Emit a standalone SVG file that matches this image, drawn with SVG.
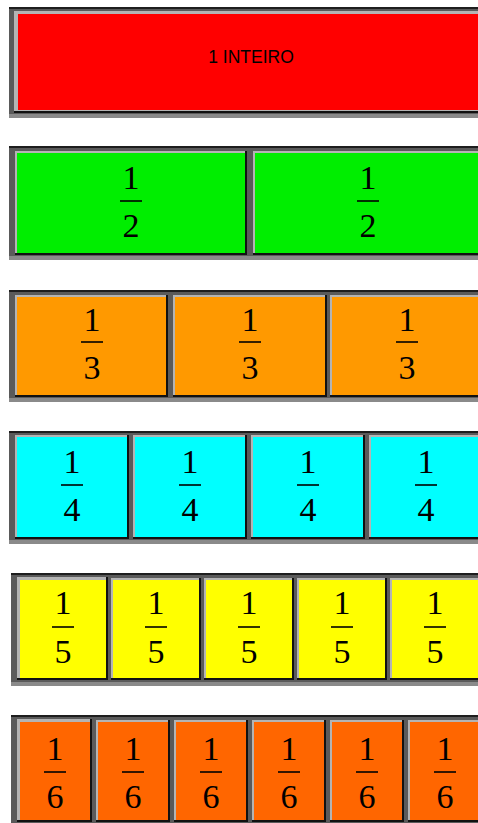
<svg xmlns="http://www.w3.org/2000/svg" width="478" height="823" viewBox="0 0 478 823">
<style>
.row{fill:#5a5a5a}
.rowtop{fill:#1e1e1e}
.rowbot{fill:#8a8a8a}
.blk{fill:#111}
.lt{fill:#b4b4b4}
.n{font-family:"Liberation Serif","Times New Roman",serif;font-size:34px;fill:#000;text-anchor:middle}
.bar{stroke:#000;stroke-width:1.6}
.lbl{font-family:"Liberation Sans",Arial,sans-serif;font-size:17.5px;fill:#000;text-anchor:middle}
.r1{fill:#ff0000}.r2{fill:#00ee00}.r3{fill:#ff9900}.r4{fill:#00ffff}.r5{fill:#ffff00}.r6{fill:#ff6600}
</style>
<rect width="478" height="823" fill="#fff"/>

<!-- Row 1 -->
<g id="row1">
<rect class="row" x="9" y="7" width="475" height="111"/>
<rect class="rowtop" x="9" y="7" width="475" height="2"/>
<rect class="rowbot" x="9" y="114" width="475" height="4"/>
<g id="inteiro">
<rect class="blk" x="14" y="11" width="471" height="102"/>
<rect class="lt" x="14" y="11" width="469" height="100"/>
<rect class="r1" x="18" y="14" width="465" height="96"/>
<text class="lbl" x="251" y="63">1 INTEIRO</text>
</g>
</g>

<!-- Row 2 -->
<g id="row2">
<rect class="row" x="9" y="146" width="475" height="114"/>
<rect class="rowtop" x="9" y="146" width="475" height="2"/>
<rect class="rowbot" x="9" y="256" width="475" height="4"/>
<g id="half1">
<rect class="blk" x="15" y="151" width="232" height="104"/>
<rect class="lt" x="15" y="151" width="230" height="102"/>
<rect class="r2" x="17" y="153" width="228" height="100"/>
<text class="n" x="131" y="189">1</text><line class="bar" x1="120" y1="201" x2="142" y2="201"/><text class="n" x="131" y="237">2</text>
</g>
<g id="half2">
<rect class="blk" x="253" y="151" width="232" height="104"/>
<rect class="lt" x="253" y="151" width="230" height="102"/>
<rect class="r2" x="255" y="153" width="228" height="100"/>
<text class="n" x="368" y="189">1</text><line class="bar" x1="357" y1="201" x2="379" y2="201"/><text class="n" x="368" y="237">2</text>
</g>
</g>

<!-- Row 3 -->
<g id="row3">
<rect class="row" x="9" y="290" width="475" height="112"/>
<rect class="rowtop" x="9" y="290" width="475" height="2"/>
<rect class="rowbot" x="9" y="398" width="475" height="4"/>
<g id="third1">
<rect class="blk" x="15" y="295" width="153" height="102"/>
<rect class="lt" x="15" y="295" width="151" height="100"/>
<rect class="r3" x="17" y="297" width="149" height="98"/>
<text class="n" x="92" y="331">1</text><line class="bar" x1="81" y1="342" x2="103" y2="342"/><text class="n" x="92" y="379">3</text>
</g>
<g id="third2">
<rect class="blk" x="173" y="295" width="154" height="102"/>
<rect class="lt" x="173" y="295" width="152" height="100"/>
<rect class="r3" x="175" y="297" width="150" height="98"/>
<text class="n" x="250" y="331">1</text><line class="bar" x1="239" y1="342" x2="261" y2="342"/><text class="n" x="250" y="379">3</text>
</g>
<g id="third3">
<rect class="blk" x="330" y="295" width="154" height="102"/>
<rect class="lt" x="330" y="295" width="152" height="100"/>
<rect class="r3" x="332" y="297" width="150" height="98"/>
<text class="n" x="407" y="331">1</text><line class="bar" x1="396" y1="342" x2="418" y2="342"/><text class="n" x="407" y="379">3</text>
</g>
</g>

<!-- Row 4 -->
<g id="row4">
<rect class="row" x="9" y="431" width="475" height="113"/>
<rect class="rowtop" x="9" y="431" width="475" height="2"/>
<rect class="rowbot" x="9" y="540" width="475" height="4"/>
<g id="quarter1">
<rect class="blk" x="15" y="435" width="114" height="104"/>
<rect class="lt" x="15" y="435" width="112" height="102"/>
<rect class="r4" x="17" y="437" width="110" height="100"/>
<text class="n" x="72" y="473">1</text><line class="bar" x1="61" y1="485" x2="83" y2="485"/><text class="n" x="72" y="521">4</text>
</g>
<g id="quarter2">
<rect class="blk" x="133" y="435" width="114" height="104"/>
<rect class="lt" x="133" y="435" width="112" height="102"/>
<rect class="r4" x="135" y="437" width="110" height="100"/>
<text class="n" x="190" y="473">1</text><line class="bar" x1="179" y1="485" x2="201" y2="485"/><text class="n" x="190" y="521">4</text>
</g>
<g id="quarter3">
<rect class="blk" x="251" y="435" width="114" height="104"/>
<rect class="lt" x="251" y="435" width="112" height="102"/>
<rect class="r4" x="253" y="437" width="110" height="100"/>
<text class="n" x="308" y="473">1</text><line class="bar" x1="297" y1="485" x2="319" y2="485"/><text class="n" x="308" y="521">4</text>
</g>
<g id="quarter4">
<rect class="blk" x="369" y="435" width="114" height="104"/>
<rect class="lt" x="369" y="435" width="112" height="102"/>
<rect class="r4" x="371" y="437" width="110" height="100"/>
<text class="n" x="426" y="473">1</text><line class="bar" x1="415" y1="485" x2="437" y2="485"/><text class="n" x="426" y="521">4</text>
</g>
</g>

<!-- Row 5 -->
<g id="row5">
<rect class="row" x="11" y="573" width="473" height="113"/>
<rect class="rowtop" x="11" y="573" width="473" height="2"/>
<rect class="rowbot" x="11" y="682" width="473" height="4"/>
<g id="fifth1">
<rect class="blk" x="17" y="577" width="91" height="103"/>
<rect class="lt" x="17" y="577" width="89" height="101"/>
<rect class="r5" x="20" y="580" width="86" height="98"/>
<text class="n" x="63" y="614">1</text><line class="bar" x1="52" y1="627" x2="74" y2="627"/><text class="n" x="63" y="663">5</text>
</g>
<g id="fifth2">
<rect class="blk" x="111" y="578" width="90" height="102"/>
<rect class="lt" x="111" y="578" width="88" height="100"/>
<rect class="r5" x="113" y="580" width="86" height="98"/>
<text class="n" x="156" y="614">1</text><line class="bar" x1="145" y1="627" x2="167" y2="627"/><text class="n" x="156" y="663">5</text>
</g>
<g id="fifth3">
<rect class="blk" x="204" y="578" width="90" height="102"/>
<rect class="lt" x="204" y="578" width="88" height="100"/>
<rect class="r5" x="206" y="580" width="86" height="98"/>
<text class="n" x="249" y="614">1</text><line class="bar" x1="238" y1="627" x2="260" y2="627"/><text class="n" x="249" y="663">5</text>
</g>
<g id="fifth4">
<rect class="blk" x="297" y="578" width="90" height="102"/>
<rect class="lt" x="297" y="578" width="88" height="100"/>
<rect class="r5" x="299" y="580" width="86" height="98"/>
<text class="n" x="342" y="614">1</text><line class="bar" x1="331" y1="627" x2="353" y2="627"/><text class="n" x="342" y="663">5</text>
</g>
<g id="fifth5">
<rect class="blk" x="390" y="578" width="90" height="102"/>
<rect class="lt" x="390" y="578" width="88" height="100"/>
<rect class="r5" x="392" y="580" width="86" height="98"/>
<text class="n" x="435" y="614">1</text><line class="bar" x1="424" y1="627" x2="446" y2="627"/><text class="n" x="435" y="663">5</text>
</g>
</g>

<!-- Row 6 -->
<g id="row6">
<rect class="row" x="11" y="715" width="473" height="108"/>
<rect class="rowtop" x="11" y="715" width="473" height="2"/>
<g id="sixth1">
<rect class="blk" x="17" y="719" width="75" height="103"/>
<rect class="lt" x="17" y="719" width="73" height="101"/>
<rect class="r6" x="20" y="722" width="70" height="98"/>
<text class="n" x="55" y="760">1</text><line class="bar" x1="44" y1="772" x2="66" y2="772"/><text class="n" x="55" y="808">6</text>
</g>
<g id="sixth2">
<rect class="blk" x="96" y="720" width="74" height="102"/>
<rect class="lt" x="96" y="720" width="72" height="100"/>
<rect class="r6" x="98" y="722" width="70" height="98"/>
<text class="n" x="133" y="760">1</text><line class="bar" x1="122" y1="772" x2="144" y2="772"/><text class="n" x="133" y="808">6</text>
</g>
<g id="sixth3">
<rect class="blk" x="174" y="720" width="74" height="102"/>
<rect class="lt" x="174" y="720" width="72" height="100"/>
<rect class="r6" x="176" y="722" width="70" height="98"/>
<text class="n" x="211" y="760">1</text><line class="bar" x1="200" y1="772" x2="222" y2="772"/><text class="n" x="211" y="808">6</text>
</g>
<g id="sixth4">
<rect class="blk" x="252" y="720" width="74" height="102"/>
<rect class="lt" x="252" y="720" width="72" height="100"/>
<rect class="r6" x="254" y="722" width="70" height="98"/>
<text class="n" x="289" y="760">1</text><line class="bar" x1="278" y1="772" x2="300" y2="772"/><text class="n" x="289" y="808">6</text>
</g>
<g id="sixth5">
<rect class="blk" x="330" y="720" width="74" height="102"/>
<rect class="lt" x="330" y="720" width="72" height="100"/>
<rect class="r6" x="332" y="722" width="70" height="98"/>
<text class="n" x="367" y="760">1</text><line class="bar" x1="356" y1="772" x2="378" y2="772"/><text class="n" x="367" y="808">6</text>
</g>
<g id="sixth6">
<rect class="blk" x="408" y="720" width="74" height="102"/>
<rect class="lt" x="408" y="720" width="72" height="100"/>
<rect class="r6" x="410" y="722" width="70" height="98"/>
<text class="n" x="445" y="760">1</text><line class="bar" x1="434" y1="772" x2="456" y2="772"/><text class="n" x="445" y="808">6</text>
</g>
</g>
</svg>
